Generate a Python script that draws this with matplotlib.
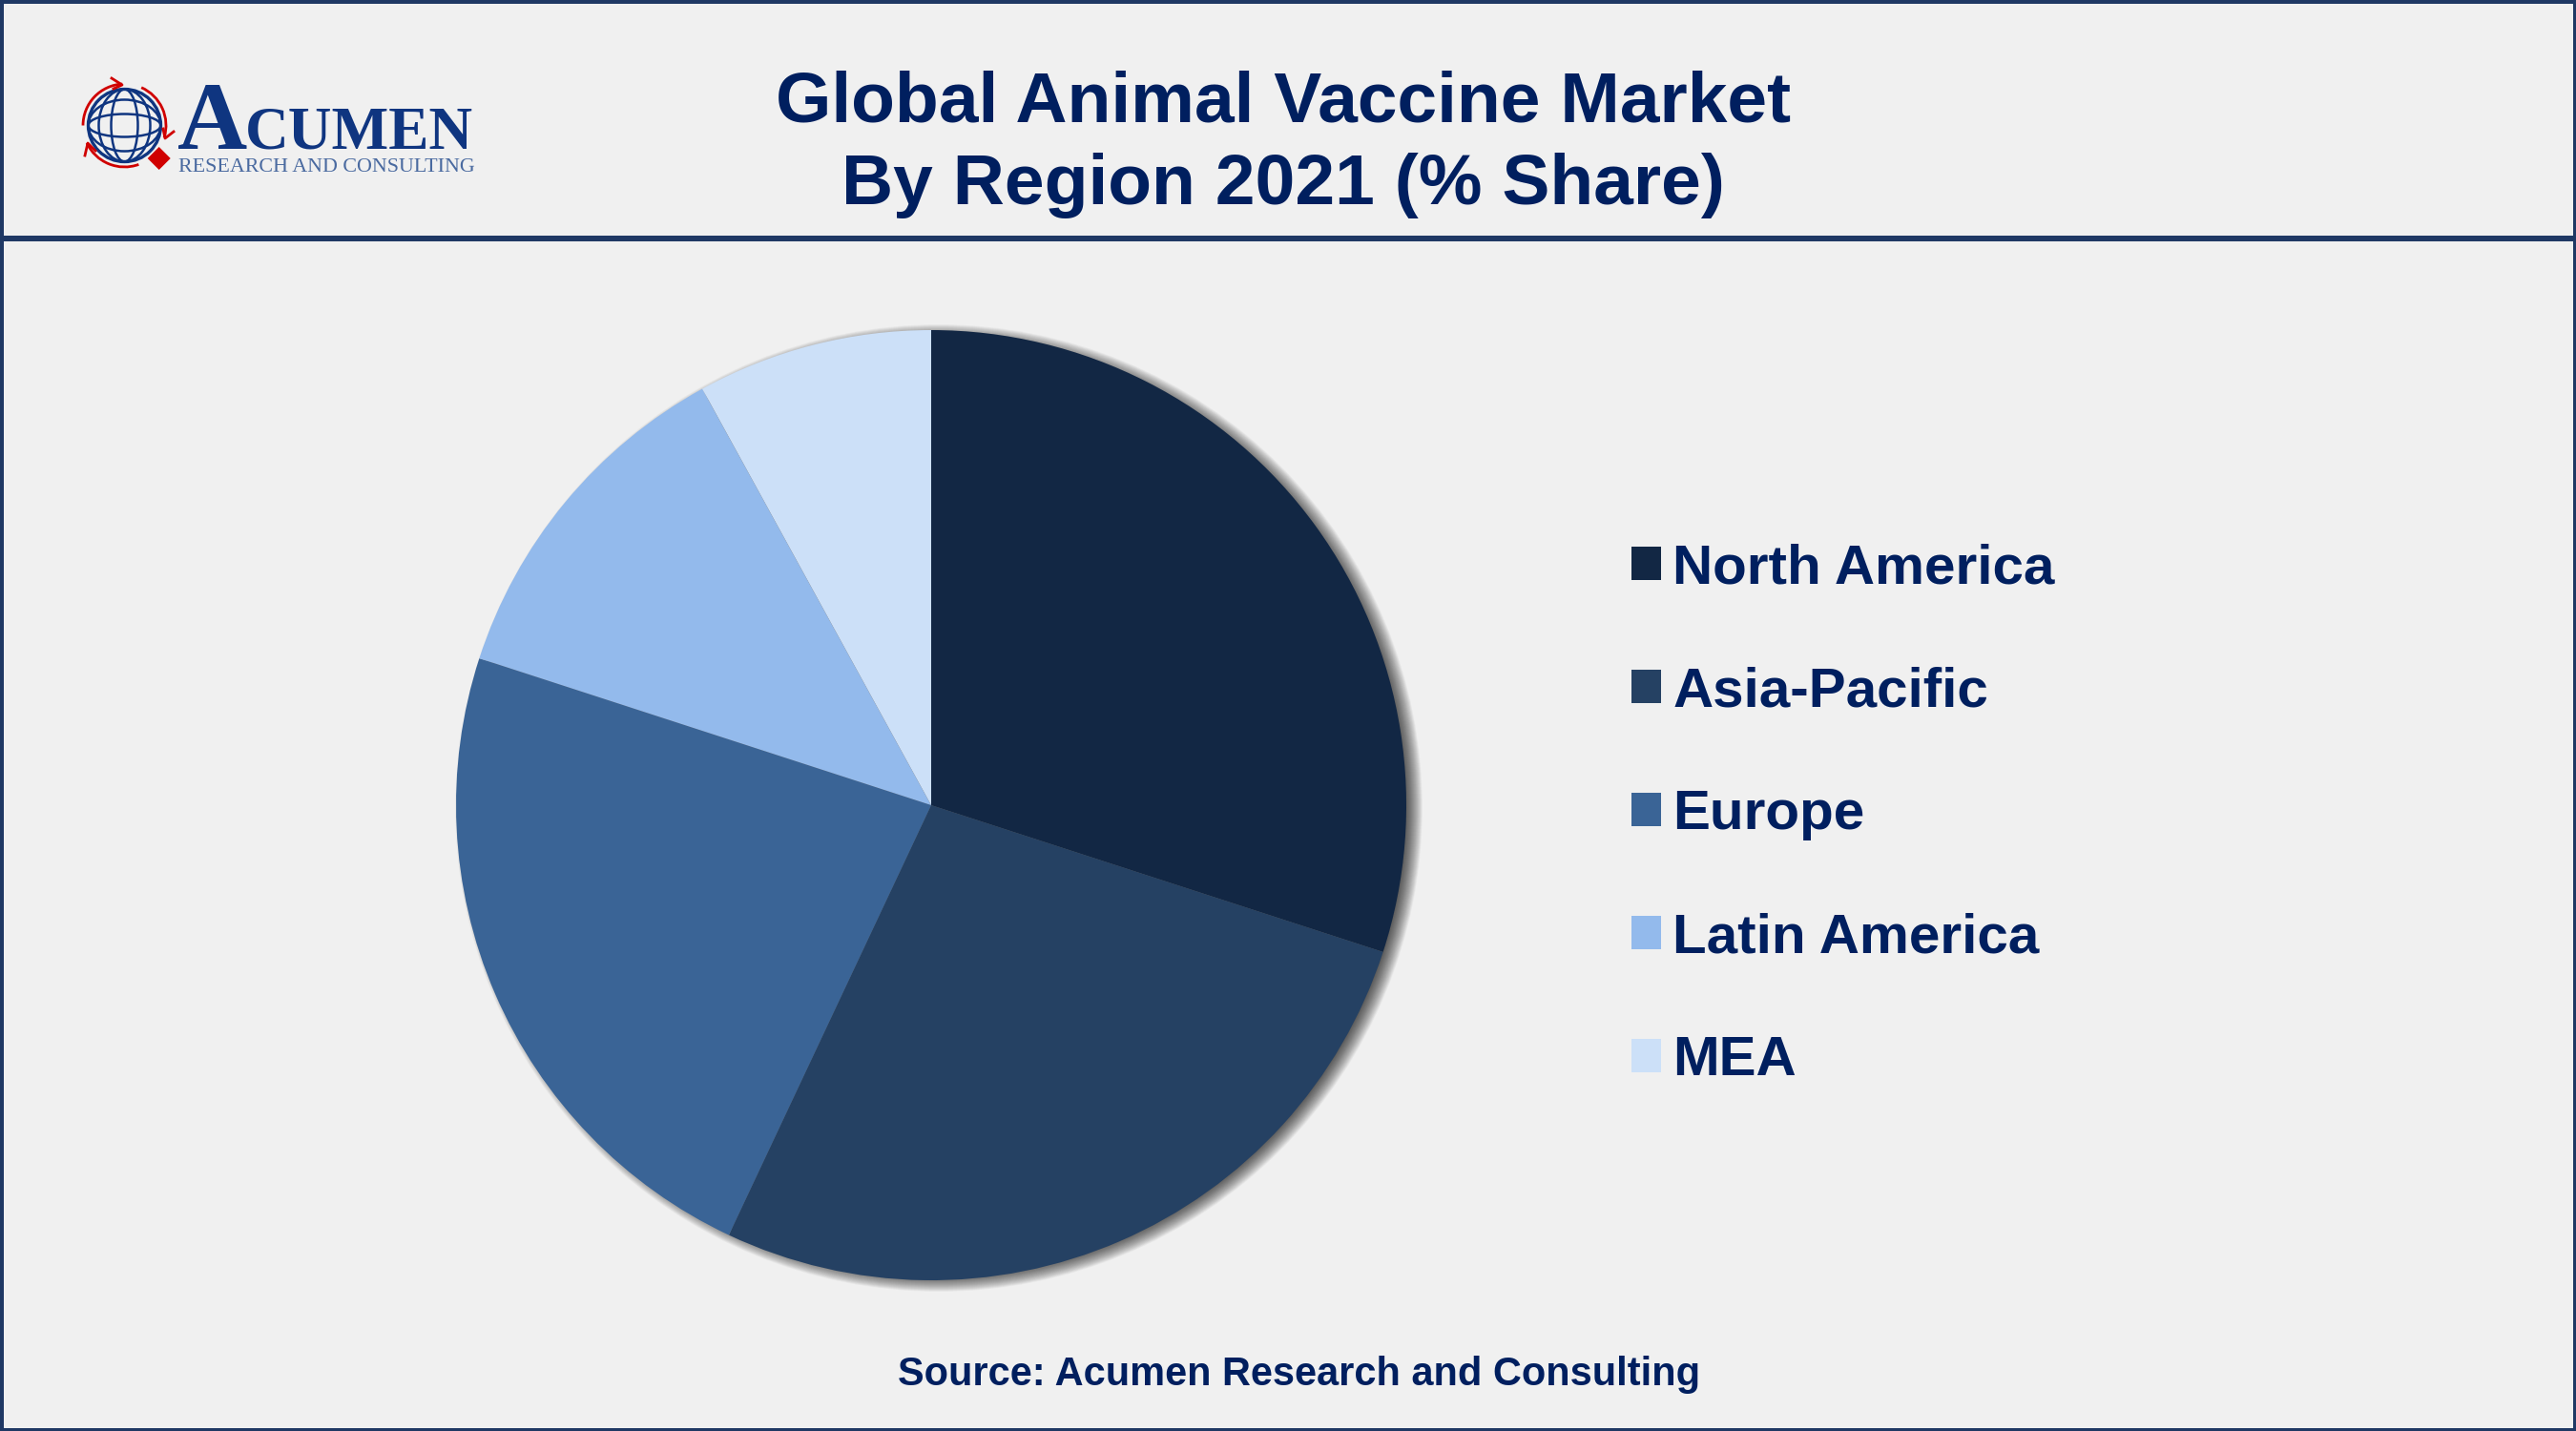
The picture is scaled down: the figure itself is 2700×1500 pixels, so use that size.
import matplotlib
matplotlib.use("Agg")
import matplotlib.pyplot as plt
from matplotlib.patches import Circle, Ellipse, Arc, Polygon, Rectangle

# ------------------------------------
# Data
# ------------------------------------
regions = ["North America", "Asia-Pacific", "Europe", "Latin America", "MEA"]
shares = [30, 27, 23, 12, 8]
colors = ["#122744", "#254163", "#3a6496", "#93baec", "#cce0f8"]

title_top = "Global Animal Vaccine Market"
title_bottom = "By Region 2021 (% Share)"
source_text = "Source: Acumen Research and Consulting"

# ------------------------------------
# Style
# ------------------------------------
W, H = 2700, 1500
BG = "#f0f0f0"
FRAME = "#1f3864"
TEXT = "#001f5f"
LOGO_BLUE = "#0f3580"
LOGO_RED = "#d00000"

plt.rcParams["font.family"] = ["Liberation Sans", "DejaVu Sans"]

fig = plt.figure(figsize=(W / 100, H / 100), dpi=100, facecolor=BG)

# background axes in pixel coordinates
bg = fig.add_axes([0, 0, 1, 1])
bg.set_xlim(0, W)
bg.set_ylim(H, 0)
bg.axis("off")

# ------------------------------------
# Frame and header rule
# ------------------------------------
bg.add_patch(Rectangle((0, 0), W, 3.5, fc=FRAME, ec="none"))
bg.add_patch(Rectangle((0, H - 3.5), W, 3.5, fc=FRAME, ec="none"))
bg.add_patch(Rectangle((0, 0), 3.5, H, fc=FRAME, ec="none"))
bg.add_patch(Rectangle((W - 3.5, 0), 3.5, H, fc=FRAME, ec="none"))
bg.add_patch(Rectangle((0, 247), W, 6, fc=FRAME, ec="none"))

# ------------------------------------
# Title and source
# ------------------------------------
bg.text(1345, 128, title_top, ha="center", va="baseline",
        fontsize=54, fontweight="bold", color=TEXT)
bg.text(1345, 214, title_bottom, ha="center", va="baseline",
        fontsize=54, fontweight="bold", color=TEXT)
bg.text(1362, 1452, source_text, ha="center", va="baseline",
        fontsize=29.9, fontweight="bold", color=TEXT)

# ------------------------------------
# Logo
# ------------------------------------
gx, gy, gr = 130.5, 131.5, 38
bg.add_patch(Circle((gx, gy), gr, fill=False, ec=LOGO_BLUE, lw=2.4))
for rx in [14, 27]:
    bg.add_patch(Ellipse((gx, gy), 2 * rx, 2 * gr, fill=False, ec=LOGO_BLUE, lw=1.8))
for ry in [12, 27]:
    bg.add_patch(Ellipse((gx, gy), 2 * gr, 2 * ry, fill=False, ec=LOGO_BLUE, lw=1.8))

# red arrows round the globe (y axis is inverted, so angles are negated)
for a1, a2 in [(93, 180), (-17, 66), (205, 290)]:
    bg.add_patch(Arc((gx, gy), 87, 87, theta1=-a2, theta2=-a1, ec=LOGO_RED, lw=2))
bg.plot([117, 128, 119], [82, 89, 93], color=LOGO_RED, lw=2)
bg.plot([171, 173, 182], [135, 145, 138], color=LOGO_RED, lw=2)
bg.plot([89, 92, 100], [163, 150, 158], color=LOGO_RED, lw=2)
bg.add_patch(Polygon([(166.7, 154), (178.7, 166), (166.7, 178), (154.7, 166)],
                     fc=LOGO_RED, ec="none"))

bg.text(186, 156, "A", ha="left", va="baseline", family="Liberation Serif",
        fontweight="bold", fontsize=73, color=LOGO_BLUE)
bg.text(257, 156, "CUMEN", ha="left", va="baseline", family="Liberation Serif",
        fontweight="bold", fontsize=45.5, color=LOGO_BLUE)
bg.text(187, 180, "RESEARCH AND CONSULTING", ha="left", va="baseline",
        family="Liberation Serif", fontsize=15.8, color="#4a6aa0")

# ------------------------------------
# Pie
# ------------------------------------
cx, cy, r_px = 976, 844, 498
pad = 1.1
ax = fig.add_axes([(cx - r_px * pad) / W, 1 - (cy + r_px * pad) / H,
                   2 * r_px * pad / W, 2 * r_px * pad / H])

wedges, _ = ax.pie(shares, colors=colors, startangle=90, counterclock=False,
                   wedgeprops={"linewidth": 0})
ax.set_xlim(-pad, pad)
ax.set_ylim(-pad, pad)

# soft drop shadow, stacked circles
for i in range(36):
    ax.add_patch(Circle((8 / r_px, -3 / r_px), 1 + (9 - i * 0.5) / r_px,
                        fc="black", ec="none", alpha=0.025, zorder=0))

# ------------------------------------
# Legend
# ------------------------------------
fig.legend(wedges, regions, loc="upper left", bbox_to_anchor=(1710 / W, 1 - 569 / H),
           frameon=False, prop={"size": 42, "weight": "bold"}, labelcolor=TEXT,
           handlelength=0.53, handleheight=0.53, handletextpad=0.21,
           labelspacing=1.287, borderpad=0, borderaxespad=0)

fig.savefig("out.png", dpi=100, facecolor=BG)
